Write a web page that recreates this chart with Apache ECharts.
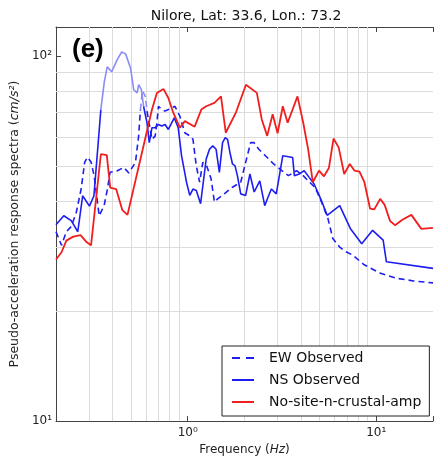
<!DOCTYPE html>
<html>
<head>
<meta charset="utf-8">
<script src="https://cdn.jsdelivr.net/npm/echarts@6/dist/echarts.min.js"></script>
<style>
html, body { margin: 0; padding: 0; background: #fff; }
#chart { width: 436px; height: 461px; }
</style>
</head>
<body>
<div id="chart"></div>
<script>
// EW observed (dashed)
var ewFreq = [0.2, 0.214, 0.227, 0.241, 0.256, 0.272, 0.284, 0.294, 0.307, 0.319, 0.339, 0.36, 0.375, 0.387, 0.423, 0.458, 0.487, 0.528, 0.549, 0.561, 0.575, 0.596, 0.608, 0.632, 0.646, 0.672, 0.686, 0.699, 0.728, 0.758, 0.789, 0.855, 0.908, 0.965, 1.025, 1.066, 1.11, 1.156, 1.202, 1.257, 1.331, 1.385, 1.441, 1.562, 1.727, 1.91, 2.029, 2.156, 2.243, 2.382, 2.582, 2.855, 3.155, 3.42, 3.78, 4.098, 4.353, 4.719, 4.911, 5.216, 5.54, 5.884, 6.378, 6.907, 7.487, 8.622, 10.53, 12.88, 15.76, 20];
var ewVal = [33.0, 30.3, 33.0, 34.1, 37.2, 43.2, 51.2, 52.8, 51.2, 46.9, 36.5, 38.9, 43.2, 48.0, 48.5, 49.5, 47.8, 51.1, 60.4, 71.3, 80.3, 77.4, 70.6, 62.9, 59.1, 60.4, 65.6, 72.8, 71.3, 70.6, 71.3, 72.8, 68.4, 61.6, 60.4, 59.1, 50.0, 45.1, 51.1, 50.2, 46.0, 39.8, 40.6, 41.9, 43.7, 45.1, 51.1, 57.9, 57.9, 55.5, 53.3, 50.6, 48.5, 47.0, 48.5, 47.0, 45.5, 43.7, 41.9, 38.9, 35.9, 31.6, 30.0, 29.1, 28.5, 26.8, 25.4, 24.6, 24.2, 23.9];

// NS observed (solid blue)
var nsFreq = [0.2, 0.22, 0.241, 0.261, 0.277, 0.301, 0.318, 0.346, 0.361, 0.374, 0.395, 0.422, 0.446, 0.468, 0.497, 0.517, 0.539, 0.549, 0.568, 0.583, 0.608, 0.625, 0.646, 0.672, 0.699, 0.728, 0.758, 0.789, 0.848, 0.89, 0.927, 0.985, 1.025, 1.066, 1.11, 1.17, 1.253, 1.304, 1.357, 1.414, 1.471, 1.53, 1.581, 1.626, 1.674, 1.727, 1.782, 1.834, 1.91, 2.029, 2.137, 2.251, 2.411, 2.561, 2.665, 2.777, 2.949, 3.193, 3.602, 3.677, 3.905, 4.148, 4.406, 4.68, 5.073, 5.494, 6.401, 7.283, 8.375, 9.564, 10.88, 11.32, 20];
var nsVal = [34.5, 36.5, 35.4, 33.0, 41.4, 38.8, 41.4, 71.3, 85.0, 93.3, 90.5, 97.5, 102.5, 101.3, 92.7, 80.8, 79.2, 83.4, 80.8, 72.8, 65.6, 57.9, 63.6, 63.6, 64.9, 64.3, 64.9, 62.9, 67.7, 63.6, 53.3, 45.1, 41.5, 43.2, 42.8, 39.4, 52.2, 55.5, 56.7, 55.5, 48.0, 57.9, 59.7, 59.1, 54.4, 50.6, 50.0, 47.0, 41.9, 41.5, 47.5, 42.4, 45.5, 38.9, 41.0, 43.2, 41.9, 53.3, 52.7, 47.0, 47.5, 48.5, 46.5, 44.6, 40.6, 36.6, 38.9, 33.7, 30.6, 33.3, 31.3, 27.3, 26.2];

// No-site-n-crustal-amp (red)
var redFreq = [0.2, 0.214, 0.227, 0.247, 0.27, 0.289, 0.307, 0.346, 0.372, 0.388, 0.417, 0.45, 0.479, 0.646, 0.686, 0.743, 0.789, 0.838, 0.908, 0.965, 1.088, 1.18, 1.253, 1.385, 1.501, 1.591, 1.805, 2.036, 2.326, 2.47, 2.639, 2.821, 2.996, 3.193, 3.388, 3.821, 4.098, 4.353, 4.607, 4.97, 5.279, 5.607, 5.934, 6.324, 6.758, 7.239, 7.67, 8.147, 8.653, 9.268, 9.761, 10.49, 11.08, 11.84, 12.58, 13.76, 15.35, 17.35, 20];
var redVal = [27.7, 29.0, 31.2, 32.0, 32.3, 31.0, 30.3, 53.8, 53.5, 43.6, 43.2, 37.8, 36.7, 71.3, 79.2, 81.2, 76.7, 69.9, 63.6, 66.3, 64.0, 71.3, 72.8, 74.4, 77.5, 61.6, 70.2, 83.4, 79.2, 67.0, 60.4, 69.2, 61.4, 72.8, 65.6, 77.5, 65.6, 55.5, 45.1, 48.5, 46.8, 49.3, 59.4, 56.1, 47.5, 50.6, 48.5, 48.2, 45.1, 38.2, 38.0, 40.6, 39.1, 35.3, 34.4, 35.6, 36.7, 33.6, 33.8];

var seriesNames = ['EW Observed', 'NS Observed', 'No-site-n-crustal-amp'];
var xMinorGrid = [0.3, 0.4, 0.5, 0.6, 0.7, 0.8, 0.9, 2, 3, 4, 5, 6, 7, 8, 9];
var yMinorGrid = [20, 30, 40, 50, 60, 70, 80, 90];

// the faded (washed-out) stretch of each blue curve in the scan, as index ranges
var nsFaded = [7, 19];
var ewFaded = [19, 22];

var font = 'DejaVu Sans';
var blue = '#1e1ef0';
var lightBlue = '#8c8cf8';
var red = '#f01e1e';

// full line with the faded stretch left out
function pairsOutside(xs, ys, r) {
    return xs.map(function (x, i) { return [x, (i > r[0] && i < r[1]) ? '-' : ys[i]]; });
}
// only the faded stretch
function pairsInside(xs, ys, r) {
    return xs.map(function (x, i) { return [x, (i >= r[0] && i <= r[1]) ? ys[i] : '-']; });
}
function pairs(xs, ys) {
    return xs.map(function (x, i) { return [x, ys[i]]; });
}

var sup = { '0': '\u2070', '1': '\u00b9', '2': '\u00b2' };
function powLabel(v) {
    var e = Math.log(v) / Math.LN10;
    var r = Math.round(e);
    if (Math.abs(e - r) > 1e-6) return '';
    return '10' + sup[String(r)];
}

var chart = echarts.init(document.getElementById('chart'));

var option = {
    animation: false,
    title: [
        {
            text: 'Nilore, Lat: 33.6, Lon.: 73.2',
            left: 246, top: 9, padding: 0, textAlign: 'center',
            textStyle: { fontFamily: font, fontSize: 14, fontWeight: 'normal', color: '#111' }
        },
        {
            text: '(e)',
            left: 72, top: 37, padding: 0,
            textStyle: { fontFamily: 'Liberation Sans', fontSize: 26, fontWeight: 'bold', color: '#000' }
        }
    ],
    grid: { left: 54, right: -1, top: 27, bottom: 37 },
    legend: {
        data: [
            { name: seriesNames[0], lineStyle: { type: [8, 6] } },
            { name: seriesNames[1] },
            { name: seriesNames[2] }
        ],
        orient: 'vertical',
        left: 222, top: 346,
        z: 20,
        padding: [5, 8, 7, 9],
        itemGap: 8,
        itemWidth: 22, itemHeight: 14,
        itemStyle: { opacity: 0 },
        backgroundColor: '#fff',
        borderColor: '#222', borderWidth: 1, borderRadius: 0,
        textStyle: { fontFamily: font, fontSize: 14, color: '#111', padding: [0, 0, 0, 10] }
    },
    xAxis: [
        {
            type: 'log', logBase: 10, min: 0.2, max: 20, position: 'bottom',
            axisLine: { lineStyle: { color: '#444', width: 1 } },
            axisTick: { inside: true, length: 5, lineStyle: { color: '#444' } },
            splitLine: { show: false },
            axisLabel: { formatter: powLabel, fontFamily: font, fontSize: 12, color: '#222', margin: 6 },
            name: 'Frequency ({it|Hz})',
            nameLocation: 'middle', nameGap: 21,
            nameTextStyle: { fontFamily: font, fontSize: 12, color: '#222',
                rich: { it: { fontFamily: font, fontSize: 12, fontStyle: 'italic', color: '#222' } } }
        },
        {
            type: 'log', logBase: 10, min: 0.2, max: 20, position: 'top',
            axisLine: { lineStyle: { color: '#444', width: 1 } },
            axisTick: { inside: true, length: 5, lineStyle: { color: '#444' } },
            splitLine: { show: false },
            axisLabel: { show: false }
        }
    ],
    yAxis: [
        {
            type: 'log', logBase: 10, min: 10, max: 120, position: 'left',
            axisLine: { show: true, lineStyle: { color: '#444', width: 1 } },
            axisTick: { show: true, inside: true, length: 5, lineStyle: { color: '#444' } },
            splitLine: { show: false },
            axisLabel: { formatter: powLabel, fontFamily: font, fontSize: 12, color: '#222', margin: 4 },
            name: 'Pseudo-acceleration response spectra ({it|cm/s\u00b2})',
            nameLocation: 'middle', nameGap: 30,
            nameTextStyle: { fontFamily: font, fontSize: 12.5, color: '#222',
                rich: { it: { fontFamily: font, fontSize: 12.5, fontStyle: 'italic', color: '#222' } } }
        }
    ],
    series: [
        {
            type: 'line', data: [], silent: true, z: 1,
            markLine: {
                silent: true, symbol: ['none', 'none'], animation: false, z: 1,
                label: { show: false },
                lineStyle: { color: '#dcdcdc', type: 'solid', width: 1 },
                data: xMinorGrid.map(function (v) { return { xAxis: v }; })
                    .concat(yMinorGrid.map(function (v) { return { yAxis: v }; }))
            }
        },
        {
            name: seriesNames[0], type: 'line', data: pairsOutside(ewFreq, ewVal, ewFaded),
            symbol: 'none', showSymbol: false, z: 3,
            lineStyle: { color: blue, width: 1.6, type: [6, 4] },
            itemStyle: { color: blue }
        },
        {
            type: 'line', data: pairsInside(ewFreq, ewVal, ewFaded),
            symbol: 'none', showSymbol: false, z: 3, silent: true,
            lineStyle: { color: lightBlue, width: 1.6, type: [6, 4] }
        },
        {
            name: seriesNames[1], type: 'line', data: pairsOutside(nsFreq, nsVal, nsFaded),
            symbol: 'none', showSymbol: false, z: 3,
            lineStyle: { color: blue, width: 1.6 },
            itemStyle: { color: blue }
        },
        {
            type: 'line', data: pairsInside(nsFreq, nsVal, nsFaded),
            symbol: 'none', showSymbol: false, z: 3, silent: true,
            lineStyle: { color: lightBlue, width: 1.6 }
        },
        {
            name: seriesNames[2], type: 'line', data: pairs(redFreq, redVal),
            symbol: 'none', showSymbol: false, z: 3,
            lineStyle: { color: red, width: 1.8 },
            itemStyle: { color: red }
        }
    ]
};

chart.setOption(option);
</script>
</body>
</html>
